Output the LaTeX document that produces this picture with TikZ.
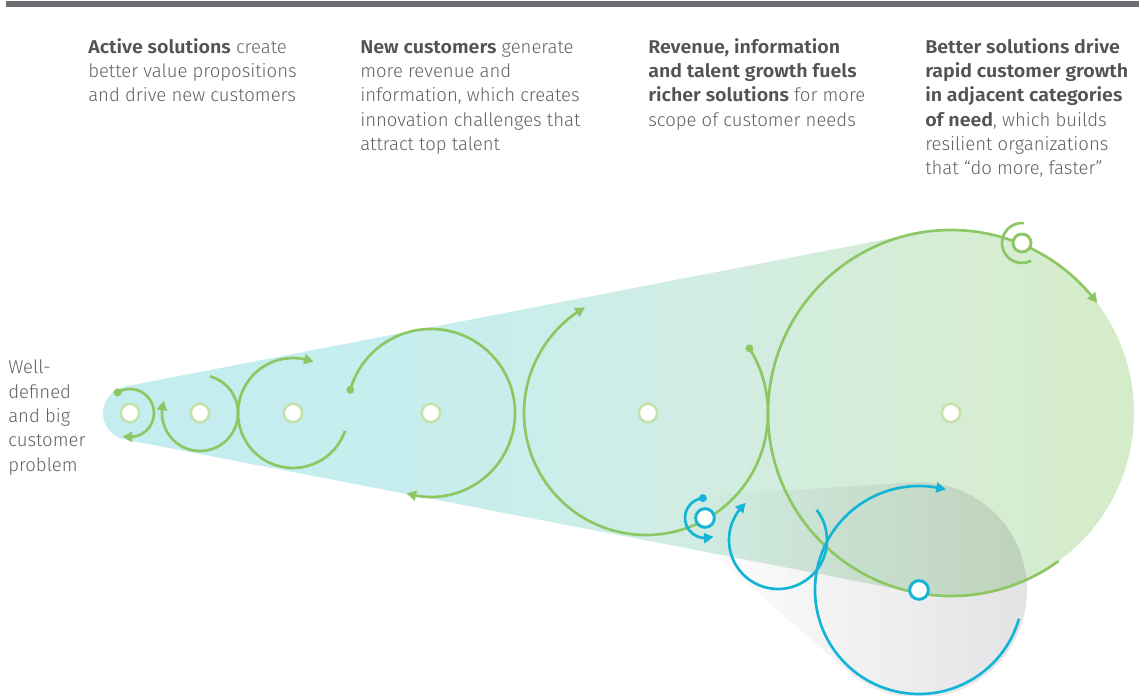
\documentclass[tikz,border=0pt]{standalone}
\usepackage{fontspec}
\setmainfont{Fira Sans}[UprightFont=* Light, BoldFont=* SemiBold, BoldFeatures={FakeStretch=1.06}]
\usetikzlibrary{arrows.meta,bending,calc}
\definecolor{txt}{RGB}{96,97,100}
\definecolor{txtb}{RGB}{82,83,85}
\definecolor{barC}{RGB}{109,110,113}
\definecolor{gC}{RGB}{141,199,99}
\definecolor{gL}{RGB}{195,227,170}
\definecolor{bC}{RGB}{20,180,214}
\definecolor{cA}{RGB}{196,237,240}
\definecolor{cB}{RGB}{199,238,237}
\definecolor{cC}{RGB}{209,237,227}
\definecolor{cD}{RGB}{214,237,212}
\definecolor{cE}{RGB}{212,236,200}
\definecolor{grayR}{RGB}{226,226,229}
\pgfdeclarehorizontalshading{coneshade}{100bp}{color(0bp)=(cA); color(25bp)=(cA); color(43bp)=(cB); color(54bp)=(cC); color(66bp)=(cD); color(75bp)=(cE); color(100bp)=(cE)}
\newcommand\boldpart[1]{{\bfseries\color{txtb}#1}}
\tikzset{
  tip/.style={-{Triangle[length=7.3pt,width=7.5pt,bend]}},
  garc/.style={draw=gC, line width=2pt},
  barc/.style={draw=bC, line width=2pt},
  gdot/.style={fill=gC},
  bdot/.style={fill=bC},
  gnode/.style={circle, draw=gL, fill=white, line width=1.9pt, minimum size=13.8pt, inner sep=0pt},
  bnode/.style={circle, draw=bC, fill=white, line width=2.2pt, minimum size=14pt, inner sep=0pt},
  gnodedark/.style={circle, draw=gC, fill=white, line width=2.2pt, minimum size=13.5pt, inner sep=0pt},
  txtblock/.style={anchor=north west, inner sep=0pt, align=left, text=txt, font=\fontsize{13.9}{18.2}\selectfont}
}
\begin{document}
\begin{tikzpicture}[x=0.75pt,y=-0.75pt]
\useasboundingbox (0,0) rectangle (1139,696);
% top bar
\fill[barC] (6,1) rectangle (1139,7);
% centres
\coordinate (c1) at (130,413);
\coordinate (c2) at (200,413);
\coordinate (c3) at (293,413);
\coordinate (c4) at (431,413);
\coordinate (c5) at (646,413);
\coordinate (c6) at (951,413);
\coordinate (c7) at (1022,243);
\coordinate (b1) at (705,518);
\coordinate (b2) at (778,540);
\coordinate (b3) at (919,590);
% main cone
\shade[shading=coneshade] (c1) ++(-100.95:27) arc[start angle=-100.95,end angle=-259.05,radius=27]
  -- ($(c6)+(100.95:183)$) arc[start angle=100.95,end angle=-100.95,radius=183] -- cycle;
% grey cone
\begin{scope}[blend mode=multiply]
\shade[left color=white,right color=grayR] (b1) ++(-93.8:22) arc[start angle=-93.8,end angle=-229,radius=22]
  -- ($(b3)+(131:108)$) arc[start angle=131,end angle=-93.8,radius=108] -- cycle;
\end{scope}
% green arcs
\draw[garc,tip] (c1) ++(-121:24) coordinate (d1) arc[start angle=-121,end angle=108,radius=24];
\fill[gdot] (d1) circle[radius=4];
\draw[garc,tip] (c2) ++(-75:38) arc[start angle=-75,end angle=199,radius=38];
\draw[garc,tip] (c3) ++(19:55) arc[start angle=19,end angle=292,radius=55];
\draw[garc,tip] (c4) ++(-164:84) coordinate (d4) arc[start angle=-164,end angle=107,radius=84];
\fill[gdot] (d4) circle[radius=4];
\draw[garc,tip] (c5) ++(-32:122) coordinate (d5) arc[start angle=-32,end angle=240,radius=122];
\fill[gdot] (d5) circle[radius=4];
\draw[garc,tip] (c6) ++(54:183) arc[start angle=54,end angle=323,radius=183];
\draw[garc] (c7) ++(-85:20) arc[start angle=-85,end angle=-297,radius=20];
% blue arcs
\draw[barc,tip] (b1) ++(-96:20) coordinate (e1) arc[start angle=-96,end angle=-295,radius=20];
\fill[bdot] (e1) circle[radius=4];
\draw[barc,tip] (b2) ++(-38:49) arc[start angle=-38,end angle=229,radius=49];
\draw[barc,tip] (b3) ++(16:104) arc[start angle=16,end angle=285,radius=104];
% nodes
\node[gnode] (n1) at (c1) {};
\node[gnode] (n2) at (c2) {};
\node[gnode] (n3) at (c3) {};
\node[gnode] (n4) at (c4) {};
\node[gnode] (n5) at (648,413) {};
\node[gnode] (n6) at (c6) {};
\node[gnodedark] (n7) at (c7) {};
\node[bnode] (m1) at (b1) {};
\node[bnode] (m3) at (b3) {};
% texts
\node[txtblock] (t1) at (88,36.2) {\strut\boldpart{Active solutions} create\\better value propositions\\and drive new customers};
\node[txtblock] (t2) at (360,36.2) {\strut\boldpart{New customers} generate\\more revenue and\\information, which creates\\innovation challenges that\\attract top talent};
\node[txtblock] (t3) at (648,36.2) {\strut\boldpart{Revenue, information}\\\boldpart{and talent growth fuels}\\\boldpart{richer solutions} for more\\scope of customer needs};
\node[txtblock] (t4) at (925,36.2) {\strut\boldpart{Better solutions drive}\\\boldpart{rapid customer growth}\\\boldpart{in adjacent categories}\\\boldpart{of need}, which builds\\resilient organizations\\that “do more, faster”};
\node[txtblock] (t0) at (8,356.7) {\strut Well-\\defined\\and big\\customer\\problem};
\end{tikzpicture}
\end{document}
